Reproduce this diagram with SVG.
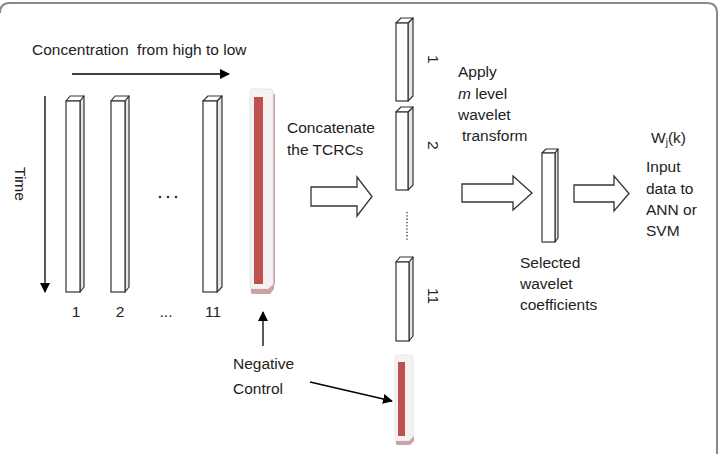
<svg xmlns="http://www.w3.org/2000/svg" width="720" height="454" viewBox="0 0 720 454">
<defs>
<marker id="ah" viewBox="0 0 10 10" refX="9" refY="5" markerWidth="10" markerHeight="10" markerUnits="userSpaceOnUse" orient="auto">
<path d="M0,0 L10,5 L0,10 z" fill="#000"/>
</marker>
<style>
text{font-family:"Liberation Sans",Arial,sans-serif;font-size:15.5px;fill:#222}
.front{fill:#fff;stroke:#333;stroke-width:1.2}
.side{fill:#e6e6e6;stroke:#333;stroke-width:1.2;stroke-linejoin:round}
.top{fill:#fff;stroke:#333;stroke-width:1.2;stroke-linejoin:round}
.line{stroke:#000;stroke-width:1.3;fill:none}
.block{fill:#fff;stroke:#333;stroke-width:1.3;stroke-linejoin:miter}
.ncout{fill:#f4f2f2;stroke:#e8e4e4;stroke-width:1}
.ncsh{fill:#c9a3a6}
.ncin{fill:#c0504d}
</style>
</defs>
<rect width="720" height="454" fill="#fff"/>
<path d="M0,13 Q0,3 10,3 L707,3 Q717,3 717,13 L717,454" fill="none" stroke="#8a8a8a" stroke-width="2"/>

<g id="title"><text x="32" y="55" xml:space="preserve">Concentration  from high to low</text></g>
<g id="time-label"><text transform="translate(15,167) rotate(90)">Time</text></g>

<g id="connectors">
<line class="line" x1="72" y1="74" x2="229" y2="74" marker-end="url(#ah)"/>
<line class="line" x1="45" y1="96" x2="45" y2="292" marker-end="url(#ah)"/>
<line class="line" x1="263" y1="346" x2="263" y2="312" marker-end="url(#ah)"/>
<line class="line" x1="310" y1="382" x2="392" y2="401" marker-end="url(#ah)"/>
<path class="block" d="M311,187 L357,187 L357,177 L372,196.5 L357,216 L357,206 L311,206 Z"/>
<path class="block" d="M462,184 L513,184 L513,176 L532,193 L513,210 L513,202 L462,202 Z"/>
<path class="block" d="M574,185 L614,185 L614,176 L629,193.5 L614,211 L614,202 L574,202 Z"/>
</g>

<g id="bar1">
<path class="side" d="M80,101 L84,96 L84,287 L80,292 Z"/>
<path class="top" d="M66,101 L70,96 L84,96 L80,101 Z"/>
<rect class="front" x="66" y="101" width="14" height="191"/>
</g>
<g id="bar2">
<path class="side" d="M125,101 L129,96 L129,287 L125,292 Z"/>
<path class="top" d="M111,101 L115,96 L129,96 L125,101 Z"/>
<rect class="front" x="111" y="101" width="14" height="191"/>
</g>
<g id="bar11">
<path class="side" d="M217,101 L222,96 L222,287 L217,292 Z"/>
<path class="top" d="M203,101 L208,96 L222,96 L217,101 Z"/>
<rect class="front" x="203" y="101" width="14" height="191"/>
</g>
<g id="dots1">
<circle cx="160" cy="197" r="1.3" fill="#333"/><circle cx="168" cy="197" r="1.3" fill="#333"/><circle cx="176" cy="197" r="1.3" fill="#333"/>
</g>
<g id="labels-bottom">
<text x="76" y="317" text-anchor="middle">1</text>
<text x="120" y="317" text-anchor="middle">2</text>
<text x="166" y="317" text-anchor="middle" font-size="12">...</text>
<text x="213" y="317" text-anchor="middle">11</text>
</g>

<g id="negctrl1">
<path class="ncsh" d="M253,290 L270,290 L275,284 L275,94 L273,94 L273,289 L253,289 Z"/>
<rect class="ncout" x="250" y="89" width="23" height="200" rx="3"/>
<path class="ncsh" d="M251,289 L268,289 L274,284 L274,289 L270,294 L253,294 Q250,294 251,289 Z"/>
<rect class="ncin" x="254" y="97" width="9" height="187"/>
</g>

<g id="concat-label">
<text x="287" y="133">Concatenate</text>
<text x="287" y="155">the TCRCs</text>
</g>

<g id="cbar1">
<path class="side" d="M408,23 L413,18 L413,96 L408,101 Z"/>
<path class="top" d="M396,23 L401,18 L413,18 L408,23 Z"/>
<rect class="front" x="396" y="23" width="12" height="78"/>
</g>
<g id="cbar2">
<path class="side" d="M408,112 L413,107 L413,185 L408,190 Z"/>
<path class="top" d="M396,112 L401,107 L413,107 L408,112 Z"/>
<rect class="front" x="396" y="112" width="12" height="78"/>
</g>
<g id="cdots">
<line x1="407" y1="212" x2="407" y2="240" stroke="#333" stroke-width="1.3" stroke-dasharray="1.3,2"/>
</g>
<g id="cbar11">
<path class="side" d="M409,262 L413,257 L413,336 L409,341 Z"/>
<path class="top" d="M396,262 L400,257 L413,257 L409,262 Z"/>
<rect class="front" x="396" y="262" width="13" height="79"/>
</g>
<g id="cbar-labels">
<text transform="translate(428,55) rotate(90)">1</text>
<text transform="translate(428,141) rotate(90)">2</text>
<text transform="translate(428,288) rotate(90)">11</text>
</g>

<g id="negctrl2">
<rect class="ncout" x="395" y="355" width="18" height="86" rx="3"/>
<path class="ncsh" d="M396,441 L409,441 L414,436 L414,441 L410,445 L398,445 Q395,445 396,441 Z"/>
<rect class="ncin" x="398" y="362" width="7" height="74"/>
</g>
<g id="negctrl-label">
<text x="233" y="369">Negative</text>
<text x="233" y="394">Control</text>
</g>

<g id="apply-label">
<text x="458" y="77">Apply</text>
<text x="458" y="99"><tspan font-style="italic">m</tspan> level</text>
<text x="458" y="120">wavelet</text>
<text x="462" y="141">transform</text>
</g>

<g id="selbar">
<path class="side" d="M555,153 L558,149 L558,238 L555,242 Z"/>
<path class="top" d="M542,153 L546,149 L558,149 L555,153 Z"/>
<rect class="front" x="542" y="153" width="13" height="89"/>
</g>
<g id="sel-label">
<text x="520" y="268">Selected</text>
<text x="520" y="289">wavelet</text>
<text x="520" y="310">coefficients</text>
</g>

<g id="output-label">
<text x="651" y="143">W<tspan font-size="10" dy="3">j</tspan><tspan dy="-3">(k)</tspan></text>
<text x="646" y="172">Input</text>
<text x="646" y="194">data to</text>
<text x="646" y="215">ANN or</text>
<text x="646" y="236">SVM</text>
</g>
</svg>
